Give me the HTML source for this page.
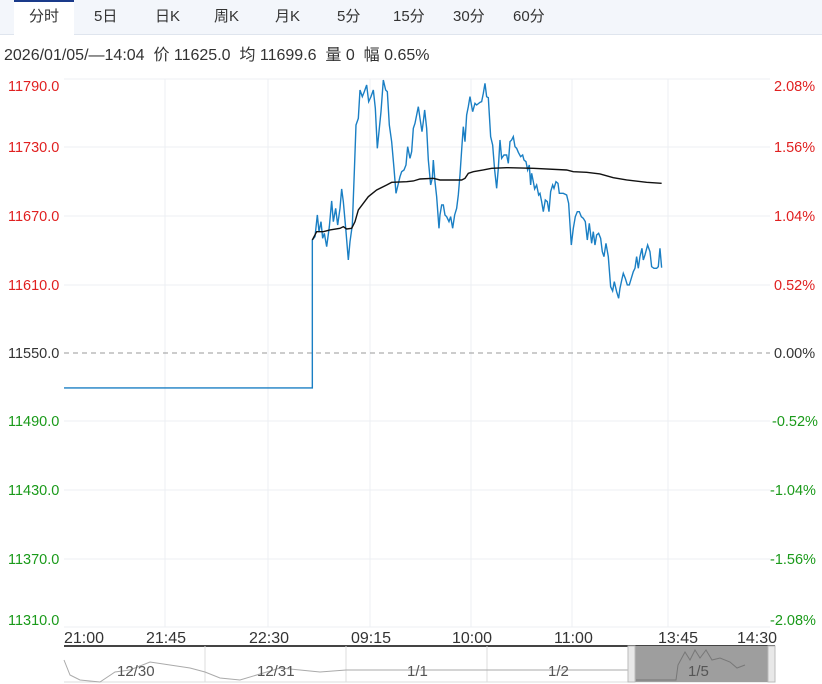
<!DOCTYPE html>
<html><head><meta charset="utf-8"><style>
body{margin:0;width:822px;height:684px;background:#fff;overflow:hidden;font-family:"Liberation Sans","Noto Sans CJK SC",sans-serif}
.tabs{position:absolute;left:0;top:0;width:822px;height:34px;background:#f3f6fb;border-bottom:1px solid #dfe5ee}
.tab{position:absolute;top:0;height:34px;line-height:34px;font-size:15px;color:#333}
.info{position:absolute;left:4px;top:41px;font-size:16px;color:#333;white-space:nowrap}
</style></head><body>
<div class="tabs">
<div style="position:absolute;left:14px;top:0;width:60px;height:35px;background:#fff;border-top:2px solid #1a3a8a;box-sizing:border-box"></div>
<div class="tab" style="left:29px">分时</div>
<div class="tab" style="left:94px">5日</div>
<div class="tab" style="left:155px">日K</div>
<div class="tab" style="left:214px">周K</div>
<div class="tab" style="left:275px">月K</div>
<div class="tab" style="left:337px">5分</div>
<div class="tab" style="left:393px">15分</div>
<div class="tab" style="left:453px">30分</div>
<div class="tab" style="left:513px">60分</div>
</div>
<div class="info">2026/01/05/—14:04&nbsp; 价 11625.0&nbsp; 均 11699.6&nbsp; 量 0&nbsp; 幅 0.65%</div>
<svg width="822" height="684" style="position:absolute;left:0;top:0" font-family="Liberation Sans, sans-serif" font-size="14.5">
<g stroke="#eceff3" stroke-width="1">
<line x1="64" y1="79" x2="770" y2="79"/>
<line x1="64" y1="147" x2="770" y2="147"/><line x1="64" y1="216" x2="770" y2="216"/>
<line x1="64" y1="285" x2="770" y2="285"/><line x1="64" y1="421" x2="770" y2="421"/>
<line x1="64" y1="490" x2="770" y2="490"/><line x1="64" y1="559" x2="770" y2="559"/>
<line x1="64" y1="627" x2="770" y2="627"/>
<line x1="165" y1="79" x2="165" y2="627"/><line x1="268" y1="79" x2="268" y2="627"/>
<line x1="370" y1="79" x2="370" y2="627"/><line x1="471" y1="79" x2="471" y2="627"/>
<line x1="572" y1="79" x2="572" y2="627"/><line x1="668" y1="79" x2="668" y2="627"/>
</g>
<line x1="64" y1="353" x2="770" y2="353" stroke="#999" stroke-dasharray="5,4"/>
<g fill="#e02020"><text x="8" y="91">11790.0</text><text x="8" y="152">11730.0</text><text x="8" y="221">11670.0</text><text x="8" y="290">11610.0</text>
<text x="774" y="91">2.08%</text><text x="774" y="152">1.56%</text><text x="774" y="221">1.04%</text><text x="774" y="290">0.52%</text></g>
<text x="8" y="358" fill="#333">11550.0</text><text x="774" y="358" fill="#333">0.00%</text>
<g fill="#1a9a1a"><text x="8" y="426">11490.0</text><text x="8" y="495">11430.0</text><text x="8" y="564">11370.0</text><text x="8" y="625">11310.0</text>
<text x="772" y="426">-0.52%</text><text x="770" y="495">-1.04%</text><text x="770" y="564">-1.56%</text><text x="770" y="625">-2.08%</text></g>
<g transform="translate(300,75) scale(0.3333)" fill="none">
<path vector-effect="non-scaling-stroke" stroke="#1a7fc4" stroke-width="1.4" d="M-708,939 L37,939 L37,495 L45,485 L52,420 L57,470 L63,440 L68,490 L73,475 L80,515 L88,455 L95,378 L100,440 L107,400 L113,450 L120,400 L125,342 L130,380 L138,470 L145,555 L150,500 L157,450 L163,290 L168,150 L175,130 L180,45 L187,65 L193,50 L200,30 L206,80 L213,65 L220,45 L226,100 L232,220 L238,160 L243,110 L250,15 L257,45 L262,50 L268,150 L275,200 L282,280 L288,355 L294,330 L300,305 L305,290 L312,285 L318,270 L323,215 L330,250 L335,230 L340,160 L345,145 L350,120 L355,95 L360,130 L366,170 L370,140 L374,105 L380,160 L385,255 L392,330 L397,310 L400,255 L405,320 L410,365 L417,460 L420,420 L425,390 L430,390 L435,420 L440,425 L447,440 L452,425 L458,460 L464,420 L470,400 L475,360 L480,300 L486,210 L490,155 L495,200 L500,120 L505,95 L510,65 L518,110 L525,85 L530,90 L540,82 L545,80 L550,55 L555,25 L560,65 L565,68 L572,185 L578,210 L584,285 L590,340 L595,280 L600,195 L605,250 L612,240 L620,240 L625,265 L630,200 L635,195 L640,185 L645,215 L650,220 L655,232 L662,245 L668,240 L672,255 L678,260 L683,285 L688,270 L692,330 L695,295 L700,320 L704,342 L710,330 L716,360 L720,355 L725,380 L730,410 L736,375 L742,380 L747,410 L752,350 L758,330 L762,340 L768,320 L774,325 L778,355 L790,355 L800,360 L806,385 L814,510 L820,460 L826,425 L832,410 L838,410 L844,425 L850,430 L856,440 L862,495 L868,445 L875,505 L880,470 L885,510 L890,480 L896,475 L902,490 L907,530 L912,545 L918,505 L925,545 L932,635 L938,648 L943,620 L950,650 L956,670 L960,640 L966,612 L970,595 L976,610 L982,630 L988,630 L994,610 L1000,590 L1005,580 L1010,545 L1015,580 L1020,545 L1026,520 L1030,555 L1035,540 L1043,510 L1050,530 L1055,575 L1062,580 L1070,580 L1075,575 L1080,520 L1085,578"/>
<path vector-effect="non-scaling-stroke" stroke="#111" stroke-width="1.4" d="M37,495 L50,470 L70,470 L90,465 L120,460 L130,455 L140,462 L155,460 L165,440 L175,405 L190,385 L205,365 L230,345 L260,330 L275,322 L320,320 L340,318 L360,312 L400,310 L420,315 L460,315 L485,315 L495,310 L505,295 L520,290 L550,285 L575,280 L620,278 L700,280 L800,285 L820,290 L860,292 L900,297 L940,308 L980,315 L1040,322 L1085,325"/>
</g>
<g fill="#333" font-size="16"><text x="64" y="643">21:00</text><text x="146" y="643">21:45</text><text x="249" y="643">22:30</text><text x="351" y="643">09:15</text><text x="452" y="643">10:00</text><text x="554" y="643">11:00</text><text x="658" y="643">13:45</text><text x="737" y="643">14:30</text></g>
<line x1="64" y1="646" x2="775" y2="646" stroke="#444" stroke-width="2"/>
<g stroke="#ddd"><line x1="64" y1="682" x2="775" y2="682"/><line x1="205" y1="646" x2="205" y2="682"/><line x1="346" y1="646" x2="346" y2="682"/><line x1="487" y1="646" x2="487" y2="682"/></g>
<path d="M64,660 L70,675 L80,680 L100,682 L115,672 L130,670 L150,662 L170,665 L190,668 L205,672 L220,678 L240,680 L260,674 L280,668 L300,670 L320,672 L346,670" fill="none" stroke="#aaa"/>
<line x1="346" y1="670" x2="628" y2="670" stroke="#aaa"/>
<rect x="628" y="646" width="147" height="36" fill="#9e9e9e"/>
<rect x="628" y="646" width="7" height="36" fill="#e8e8e8" stroke="#bbb"/><rect x="768" y="646" width="7" height="36" fill="#e8e8e8" stroke="#bbb"/>
<path d="M636,680 L676,680 L678,665 L685,652 L690,660 L695,650 L700,658 L706,650 L712,660 L720,658 L730,662 L737,668 L745,665" fill="none" stroke="#777"/>
<g fill="#555" font-size="15"><text x="117" y="676">12/30</text><text x="257" y="676">12/31</text><text x="407" y="676">1/1</text><text x="548" y="676">1/2</text><text x="688" y="676">1/5</text></g>
</svg>
</body></html>
